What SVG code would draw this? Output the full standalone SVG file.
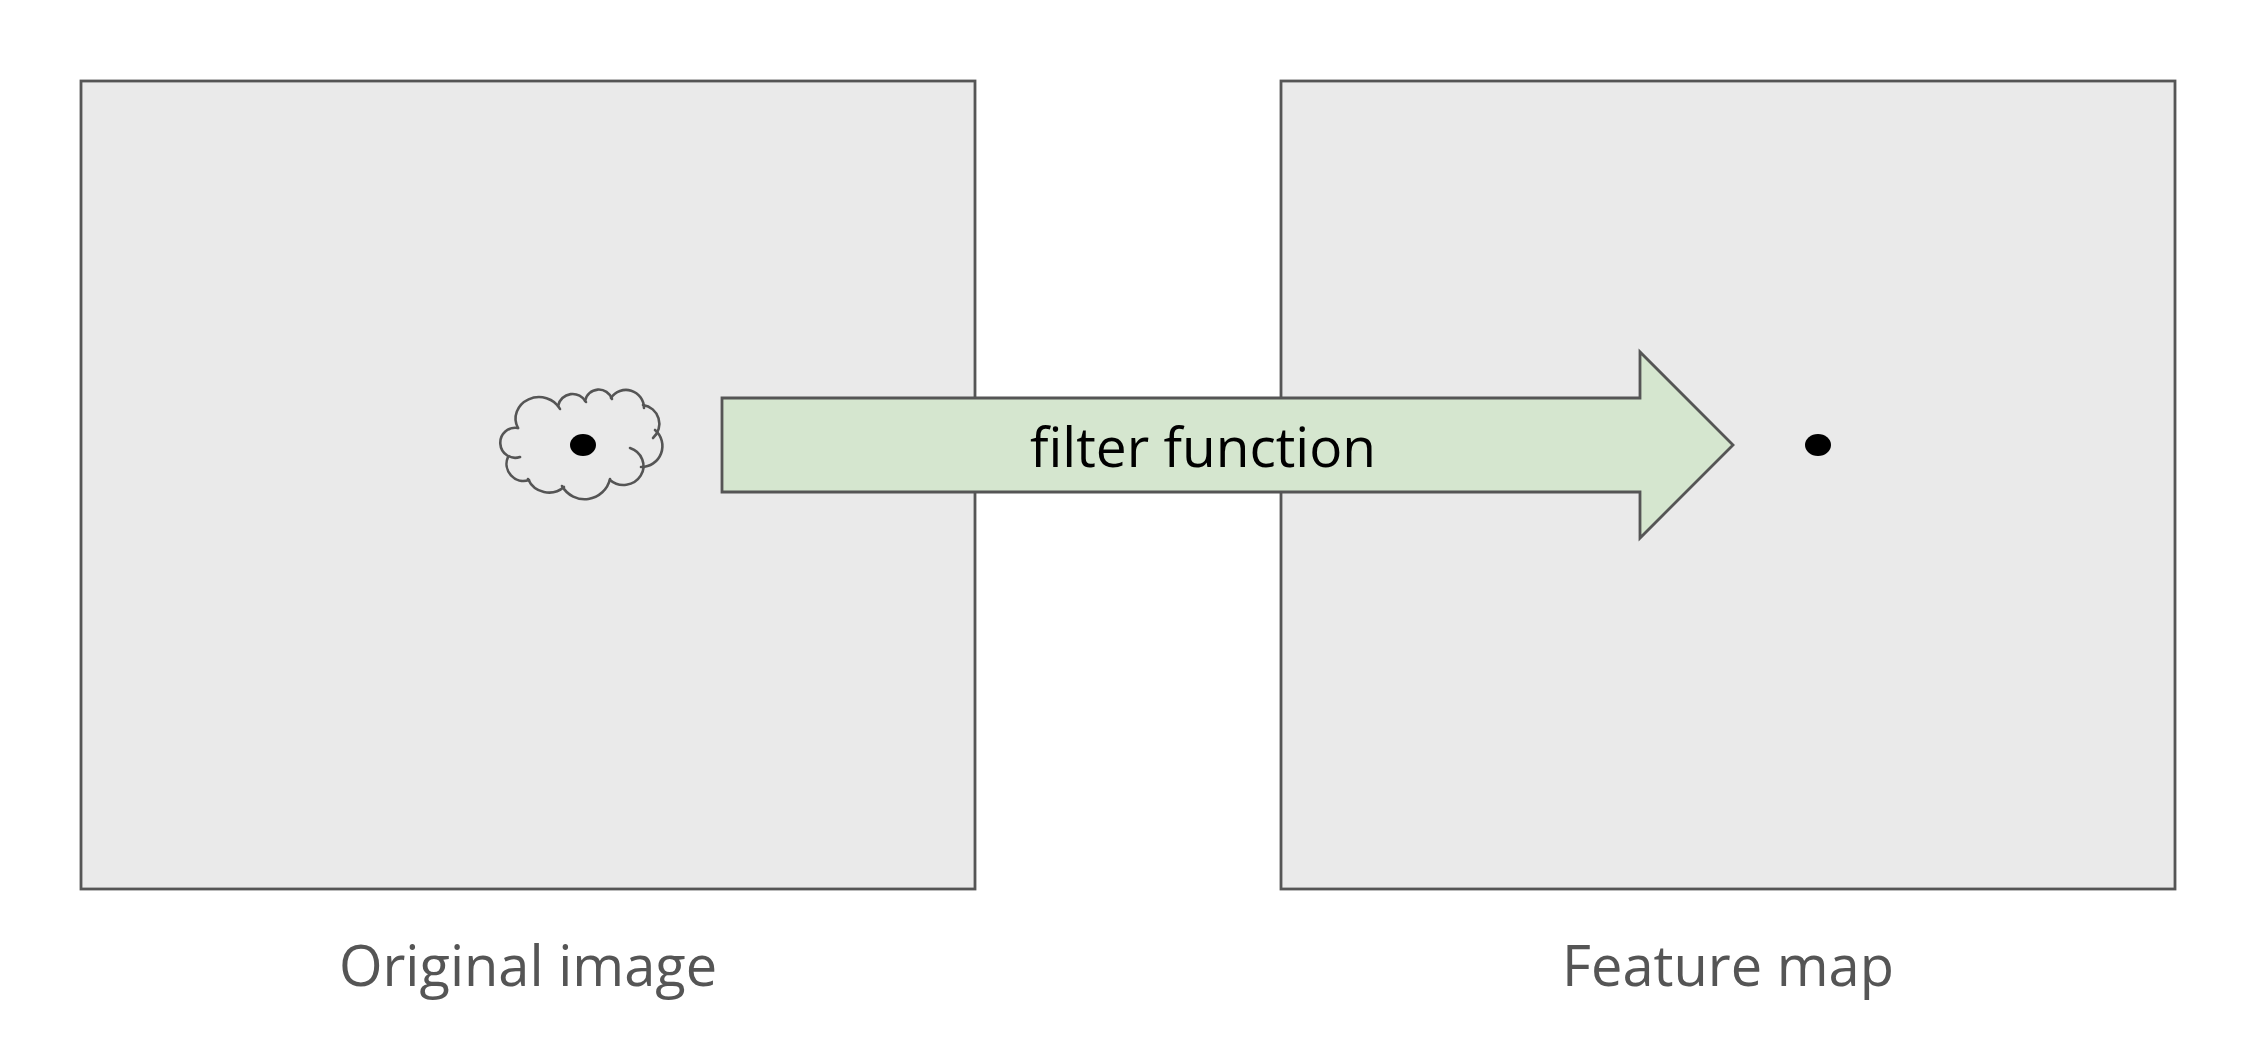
<svg xmlns="http://www.w3.org/2000/svg" width="2266" height="1058" viewBox="0 0 2266 1058">
<style>
.panel{fill:#eaeaea;stroke:#555555;stroke-width:2.8}
.lbl{font-family:"Open Sans","Noto Sans","Liberation Sans",sans-serif;font-size:56px;fill:#555555;text-anchor:middle}
.cloud{fill:none;stroke:#555555;stroke-width:2.6;stroke-linecap:round}
.dot{fill:#000000}
</style>
<rect width="2266" height="1058" fill="#ffffff"/>
<g id="original">
<rect class="panel" x="81" y="81" width="894" height="808"/>
<text class="lbl" x="528" y="986">Original image</text>
</g>
<g id="feature">
<rect class="panel" x="1281" y="81" width="894" height="808"/>
<text class="lbl" x="1728" y="986">Feature map</text>
<ellipse class="dot" cx="1818" cy="445" rx="13" ry="11"/>
</g>
<g id="cloud">
<path class="cloud" d="M520,457 A15,15 0 1 1 518,428"/>
<path class="cloud" d="M518,428 A23,21 0 0 1 560,409"/>
<path class="cloud" d="M558,406 A15,15 0 0 1 586,402"/>
<path class="cloud" d="M585,401 A14,14 0 0 1 612,399"/>
<path class="cloud" d="M611,398 A18,18 0 0 1 644,408"/>
<path class="cloud" d="M643,405 A19,19 0 0 1 653,438"/>
<path class="cloud" d="M655,430 A21,21 0 0 1 641,467"/>
<path class="cloud" d="M630,448 A20,19 0 1 1 610,480"/>
<path class="cloud" d="M610,479 A26,26 0 0 1 562,486"/>
<path class="cloud" d="M564,487 A23,23 0 0 1 528,479"/>
<path class="cloud" d="M529,480 A17,17 0 0 1 508,457"/>
<ellipse class="dot" cx="583" cy="445" rx="13" ry="11"/>
</g>
<g id="connectors">
<g id="filter-arrow">
<polygon points="722,398 1640,398 1640,352 1733,445 1640,538 1640,492 722,492" fill="#d5e6cf" stroke="#555555" stroke-width="2.8" stroke-linejoin="miter"/>
<text x="1203" y="467" font-family="'Open Sans','Noto Sans','Liberation Sans',sans-serif" font-size="55" fill="#000000" text-anchor="middle">filter function</text>
</g>
</g>
</svg>
